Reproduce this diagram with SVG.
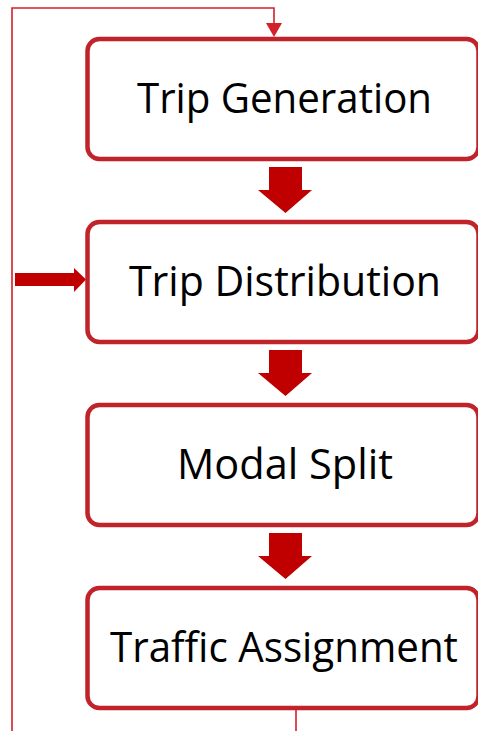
<svg xmlns="http://www.w3.org/2000/svg" width="478" height="731" viewBox="0 0 478 731">
<style>
.box{fill:#fff;stroke:#c1232b;stroke-width:4.5}
.lbl{font-family:"Open Sans","Liberation Sans",sans-serif;font-size:42px;fill:#000;text-anchor:middle}
.thin{fill:none;stroke:#d42027;stroke-width:1.6}
.blk{fill:#c00000}
</style>
<defs>
<path id="down" d="M269,167 H302 V190 H312 L285.5,213 L258,190 H269 Z"/>
</defs>
<rect width="478" height="731" fill="#fff"/>
<g id="connectors">
<polyline class="thin" points="12,731 12,8 274,8 274,24"/>
<path d="M266,23 H282 L274,37 Z" fill="#d42027"/>
<line class="thin" x1="296" y1="709" x2="296" y2="731"/>
<use href="#down" class="blk"/>
<use href="#down" class="blk" y="183"/>
<use href="#down" class="blk" y="366"/>
<path class="blk" d="M15,273 H74 V268 L86,279.5 L74,292 V286 H15 Z"/>
</g>
<g id="trip-generation">
<rect class="box" x="87.5" y="39" width="391" height="120" rx="12"/>
<text class="lbl" x="284.5" y="113" textLength="295" lengthAdjust="spacingAndGlyphs">Trip Generation</text>
</g>
<g id="trip-distribution">
<rect class="box" x="87.5" y="222" width="391" height="120" rx="12"/>
<text class="lbl" x="285" y="296" textLength="312" lengthAdjust="spacingAndGlyphs">Trip Distribution</text>
</g>
<g id="modal-split">
<rect class="box" x="87.5" y="405" width="391" height="120" rx="12"/>
<text class="lbl" x="285" y="479" textLength="216" lengthAdjust="spacingAndGlyphs">Modal Split</text>
</g>
<g id="traffic-assignment">
<rect class="box" x="87.5" y="588" width="391" height="120" rx="12"/>
<text class="lbl" x="284" y="662" textLength="348" lengthAdjust="spacingAndGlyphs">Traffic Assignment</text>
</g>
</svg>
